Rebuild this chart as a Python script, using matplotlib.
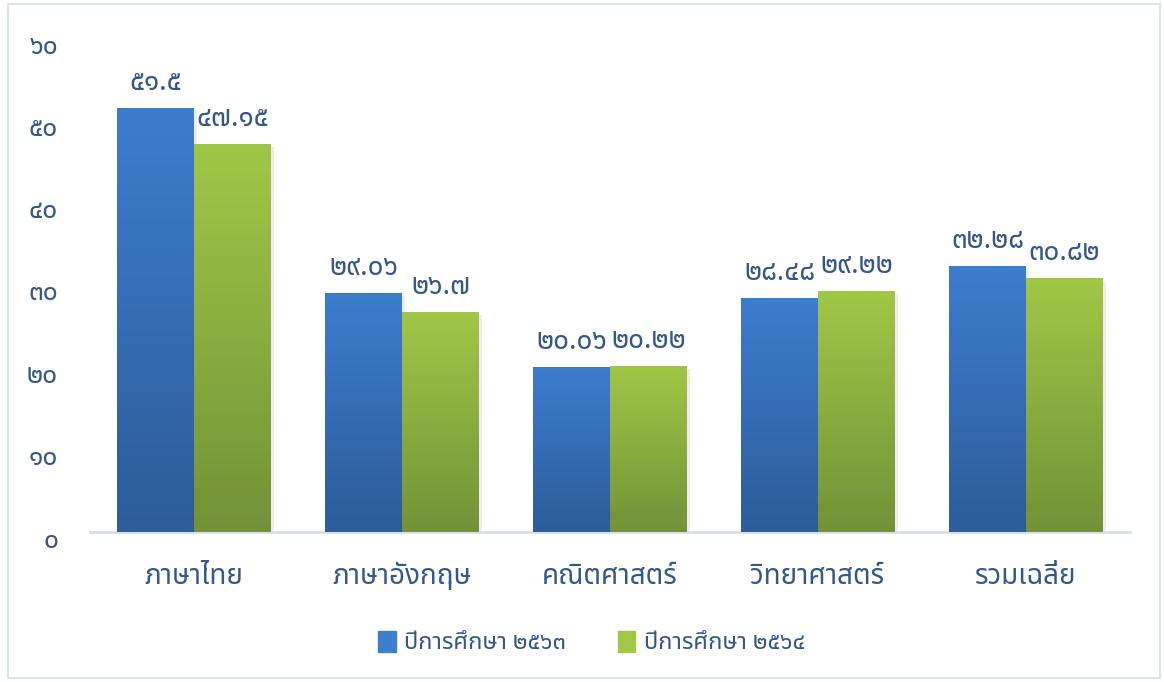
import matplotlib
matplotlib.use("Agg")
import matplotlib.pyplot as plt
import matplotlib.transforms as mtransforms
from matplotlib import font_manager as fm
from matplotlib.patches import Rectangle
import numpy as np

categories = ["ภาษาไทย", "ภาษาอังกฤษ", "คณิตศาสตร์", "วิทยาศาสตร์", "รวมเฉลี่ย"]
year_2563 = [51.5, 29.06, 20.06, 28.48, 32.28]
year_2564 = [47.15, 26.7, 20.22, 29.22, 30.82]
series_names = ["ปีการศึกษา ๒๕๖๓", "ปีการศึกษา ๒๕๖๔"]
y_ticks = [0, 10, 20, 30, 40, 50, 60]

thai_digits = str.maketrans("0123456789", "๐๑๒๓๔๕๖๗๘๙")


def find_thai_font():
    # pick an installed font that actually has Thai glyphs
    try:
        from fontTools.ttLib import TTFont
    except Exception:
        return None
    prefer = ["Noto Sans Thai", "Noto Sans Thai UI", "Noto Serif Thai", "Tlwg Typist", "Loma", "Garuda", "Norasi", "Kinnari", "Waree", "Umpush", "Sawasdee", "Laksaman"]
    found = {}
    for f in fm.fontManager.ttflist:
        try:
            tt = TTFont(f.fname, fontNumber=0, lazy=True)
            cmap = tt.getBestCmap()
            if 0x0E20 in cmap and 0x0E51 in cmap:
                found[f.name] = f.fname
        except Exception:
            pass
    for p in prefer:
        if p in found:
            return p
    return next(iter(found), None)


thai_font = find_thai_font()
fams = [thai_font, "DejaVu Sans"] if thai_font else ["DejaVu Sans"]
plt.rcParams["font.family"] = fams

text_col = "#35578A"
blue_top, blue_bot = np.array([0x3C, 0x7E, 0xCC]) / 255, np.array([0x2D, 0x5C, 0x98]) / 255
green_top, green_bot = np.array([0xA0, 0xC8, 0x46]) / 255, np.array([0x74, 0x91, 0x38]) / 255

fig = plt.figure(figsize=(11.64, 6.82), dpi=100)
ax = fig.add_axes([90 / 1164, 1 - 532 / 682, 1040 / 1164, (532 - 38) / 682])

x = np.arange(len(categories))
w = 0.37


def grad_bars(xs, vals, top, bot):
    bars = ax.bar(xs, vals, w, color=top, zorder=2)
    g = np.linspace(0, 1, 256)[:, None]
    img = top[None, None, :] * (1 - g[..., None]) + bot[None, None, :] * g[..., None]
    img = np.repeat(img, 2, axis=1)
    for b in bars:
        x0, y0 = b.get_x(), b.get_y()
        im = ax.imshow(img, extent=[x0, x0 + b.get_width(), y0, y0 + b.get_height()],
                       aspect="auto", origin="upper", zorder=3)
        im.set_clip_path(b)
        # soft shadow on the right side
        ax.add_patch(Rectangle((x0 + b.get_width(), 0), 0.014, b.get_height() - 0.4,
                               color="#000000", alpha=0.07, lw=0, zorder=1))
    return bars


b1 = grad_bars(x - w / 2, year_2563, blue_top, blue_bot)
b2 = grad_bars(x + w / 2, year_2564, green_top, green_bot)

for xs, vals in [(x - w / 2, year_2563), (x + w / 2, year_2564)]:
    for xi, v in zip(xs, vals):
        ax.annotate(f"{v:g}".translate(thai_digits), (xi, v), xytext=(0, 18),
                    textcoords="offset points", ha="center", va="center",
                    fontsize=20, color=text_col)

ax.set_xlim(-0.5, len(categories) - 0.5)
ax.set_ylim(0, 60)
ax.set_yticks(y_ticks)
ax.set_yticklabels([str(t).translate(thai_digits) for t in y_ticks])
ax.set_xticks(x)
ax.set_xticklabels(categories)
ax.tick_params(axis="y", length=0, pad=23, labelsize=19, labelcolor=text_col)
ax.tick_params(axis="x", length=0, pad=22, labelsize=20, labelcolor=text_col)
# tick labels sit a few pixels below their values in the original
shift = mtransforms.ScaledTranslation(0, -5 / 100, fig.dpi_scale_trans)
for lab in ax.get_yticklabels():
    lab.set_transform(lab.get_transform() + shift)
for s in ["top", "right", "left"]:
    ax.spines[s].set_visible(False)
ax.spines["bottom"].set_color("#D3E0F1")
ax.spines["bottom"].set_linewidth(2)

handles = [Rectangle((0, 0), 1, 1, color=blue_top), Rectangle((0, 0), 1, 1, color=green_top)]
leg = fig.legend(handles, series_names, loc="center", bbox_to_anchor=(0.508, 1 - 643 / 682),
                 ncol=2, frameon=False, fontsize=17, handlelength=0.75, handleheight=1.0,
                 handletextpad=0.35, columnspacing=2.2)
for t in leg.get_texts():
    t.set_color(text_col)

fig.patches.append(Rectangle((8 / 1164, 4 / 682), 1152 / 1164, 674 / 682, transform=fig.transFigure,
                             fill=False, edgecolor="#D3DFEE", lw=1.2))

fig.savefig("out.png", dpi=100)
